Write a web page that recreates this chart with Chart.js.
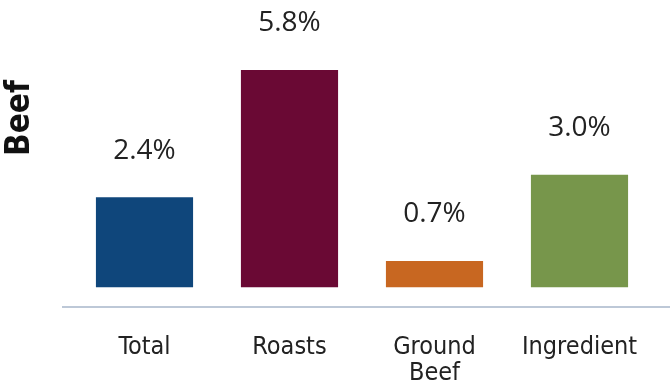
<!DOCTYPE html>
<html lang="en">
<head>
    <meta charset="UTF-8" />
    <title>Beef</title>
    <script src="https://cdn.jsdelivr.net/npm/chart.js"></script>
    <style>
        body { margin: 0; background: #fff; }
        .wrap { width: 670px; height: 389px; position: relative; }
    </style>
</head>
<body>
    <div class="wrap"><canvas id="beefChart"></canvas></div>
    <script>
        const categories = [["Total"], ["Roasts"], ["Ground", "Beef"], ["Ingredient"]];
        const changePct = [2.4, 5.8, 0.7, 3.0];
        const barColors = ["#0f467b", "#6a0934", "#c86721", "#77964b"];
        const axisTitle = "Beef";

        // value labels above bars + long base line + rotated side title
        const extras = {
            id: "extras",
            afterDraw(chart) {
                const ctx = chart.ctx;
                const area = chart.chartArea;
                ctx.save();
                ctx.strokeStyle = "#a7b6ca";
                ctx.lineWidth = 1.5;
                ctx.beginPath();
                ctx.moveTo(62, area.bottom);
                ctx.lineTo(670, area.bottom);
                ctx.stroke();

                ctx.fillStyle = "#222";
                ctx.font = "28px 'Open Sans'";
                ctx.textAlign = "center";
                ctx.textBaseline = "alphabetic";
                chart.getDatasetMeta(0).data.forEach((bar, i) => {
                    ctx.fillText(changePct[i].toFixed(1) + "%", bar.x, bar.y - 38.5);
                });

                ctx.translate(20, 118);
                ctx.rotate(-Math.PI / 2);
                ctx.textBaseline = "middle";
                ctx.font = "bold 33px 'DejaVu Sans Condensed', 'DejaVu Sans'";
                ctx.fillStyle = "#111";
                ctx.fillText(axisTitle, 0, 0);
                ctx.restore();
            }
        };

        new Chart(document.getElementById("beefChart"), {
            type: "bar",
            data: {
                labels: categories,
                datasets: [{
                    data: changePct,
                    backgroundColor: barColors,
                    barPercentage: 0.67,
                    categoryPercentage: 1.0
                }]
            },
            options: {
                responsive: true,
                maintainAspectRatio: false,
                animation: false,
                layout: { padding: { left: 72, right: 18, top: 25, bottom: 0 } },
                plugins: {
                    legend: { display: false },
                    tooltip: { enabled: false }
                },
                scales: {
                    x: {
                        grid: { display: false },
                        border: { display: false },
                        ticks: {
                            color: "#222",
                            padding: 19,
                            maxRotation: 0,
                            autoSkip: false,
                            font: { family: "'DejaVu Sans Condensed', 'DejaVu Sans'", size: 25, lineHeight: 1.05 }
                        },
                        afterFit(scale) { scale.height = 82; }
                    },
                    y: {
                        display: false,
                        min: -0.53,
                        max: 7
                    }
                }
            },
            plugins: [extras]
        });
    </script>
</body>
</html>
